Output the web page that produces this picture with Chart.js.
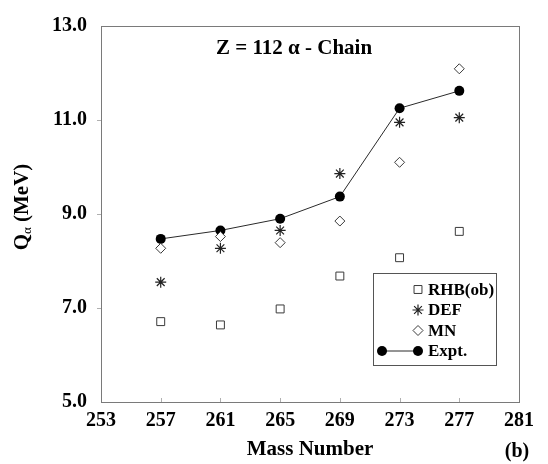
<!DOCTYPE html>
<html>
<head>
<meta charset="utf-8">
<script src="https://cdn.jsdelivr.net/npm/chart.js@4.4.1/dist/chart.umd.min.js"></script>
<style>
  html, body { margin: 0; padding: 0; background: #ffffff; }
  #wrap { width: 548px; height: 464px; position: relative; }
</style>
</head>
<body>
<div id="wrap"><canvas id="chart"></canvas></div>
<script>
// values
const massNumbers = [257, 261, 265, 269, 273, 277];
const rhbValues  = [6.71, 6.64, 6.98, 7.68, 8.07, 8.63];
const defValues  = [7.55, 8.27, 8.65, 9.86, 10.95, 11.05];
const mnValues   = [8.27, 8.52, 8.39, 8.85, 10.10, 12.09];
const exptValues = [8.47, 8.65, 8.90, 9.37, 11.25, 11.62];

const xTicks = [253, 257, 261, 265, 269, 273, 277, 281];
const yTicks = [5.0, 7.0, 9.0, 11.0, 13.0];

const chartTitle = "Z = 112 \u03b1 - Chain";
const xTitle = "Mass Number";
const panelTag = "(b)";
const legendLabels = ["RHB(ob)", "DEF", "MN", "Expt."];

const serif = "'Liberation Serif', 'Times New Roman', serif";
const axisGrey = "#7a7a7a";

const toPoints = (vals) => vals.map((v, i) => ({ x: massNumbers[i], y: v }));

const datasets = [
    {
        label: legendLabels[0],
        data: toPoints(rhbValues),
        showLine: false,
        pointStyle: "rect",
        pointRadius: 5.6,
        pointBorderWidth: 1,
        pointBorderColor: "#3a3a3a",
        pointBackgroundColor: "#ffffff"
    },
    {
        label: legendLabels[1],
        data: toPoints(defValues),
        showLine: false,
        pointStyle: "star",
        pointRadius: 5.5,
        pointBorderWidth: 1.2,
        pointBorderColor: "#222222",
        pointBackgroundColor: "#222222"
    },
    {
        label: legendLabels[2],
        data: toPoints(mnValues),
        showLine: false,
        pointStyle: "rectRot",
        pointRadius: 5,
        pointBorderWidth: 1,
        pointBorderColor: "#3a3a3a",
        pointBackgroundColor: "#ffffff"
    },
    {
        label: legendLabels[3],
        data: toPoints(exptValues),
        showLine: true,
        borderColor: "#2a2a2a",
        borderWidth: 1,
        tension: 0,
        pointStyle: "circle",
        pointRadius: 5,
        pointBorderWidth: 0,
        pointBorderColor: "#000000",
        pointBackgroundColor: "#000000"
    }
];

// frame, inner ticks, titles and the boxed legend
const decorations = {
    id: "decorations",
    afterDraw(chart) {
        const ctx = chart.ctx;
        const area = chart.chartArea;
        const xs = chart.scales.x;
        const ys = chart.scales.y;

        ctx.save();
        ctx.strokeStyle = axisGrey;
        ctx.lineWidth = 1;
        ctx.strokeRect(Math.round(area.left) + 0.5, Math.round(area.top) + 0.5,
            Math.round(area.right - area.left), Math.round(area.bottom - area.top));

        ctx.strokeStyle = "#b0b0b0";
        ctx.beginPath();
        xTicks.slice(1, -1).forEach(v => {
            const px = Math.round(xs.getPixelForValue(v)) + 0.5;
            ctx.moveTo(px, area.bottom);
            ctx.lineTo(px, area.bottom - 4);
        });
        yTicks.slice(1, -1).forEach(v => {
            const py = Math.round(ys.getPixelForValue(v)) + 0.5;
            ctx.moveTo(area.left, py);
            ctx.lineTo(area.left - 4, py);
        });
        ctx.stroke();

        ctx.fillStyle = "#000000";
        ctx.textBaseline = "middle";

        // chart title
        ctx.textAlign = "center";
        ctx.font = "bold 21px " + serif;
        ctx.fillText(chartTitle, 294, 49);

        // x title and panel tag
        ctx.fillText(xTitle, 310, 450);
        ctx.font = "bold 20px " + serif;
        ctx.fillText(panelTag, 517, 452);

        // y title: Q with subscript alpha, then (MeV)
        ctx.save();
        ctx.translate(23, 207);
        ctx.rotate(-Math.PI / 2);
        ctx.font = "bold 21px " + serif;
        const qW = ctx.measureText("Q").width;
        ctx.font = "13px " + serif;
        const aW = ctx.measureText("\u03b1").width;
        ctx.font = "bold 21px " + serif;
        const mW = ctx.measureText(" (MeV)").width;
        let x0 = -(qW + aW + mW) / 2;
        ctx.textAlign = "left";
        ctx.fillText("Q", x0, 0);
        ctx.font = "13px " + serif;
        ctx.fillText("\u03b1", x0 + qW, 5);
        ctx.font = "bold 21px " + serif;
        ctx.fillText(" (MeV)", x0 + qW + aW, 0);
        ctx.restore();

        // legend box
        ctx.strokeStyle = "#555555";
        ctx.lineWidth = 1;
        ctx.strokeRect(373.5, 273.5, 123, 92);
        const rowY = [289.5, 310, 330.5, 351];
        const markX = 418;
        ctx.font = "bold 17px " + serif;
        ctx.textAlign = "left";
        chart.data.datasets.forEach((ds, i) => {
            const y = rowY[i];
            if (ds.showLine) {
                ctx.strokeStyle = ds.borderColor;
                ctx.lineWidth = ds.borderWidth;
                ctx.beginPath();
                ctx.moveTo(382, y);
                ctx.lineTo(markX, y);
                ctx.stroke();
            }
            const opts = {
                pointStyle: ds.pointStyle,
                radius: ds.pointRadius,
                borderWidth: ds.pointBorderWidth,
                rotation: 0
            };
            ctx.strokeStyle = ds.pointBorderColor;
            ctx.fillStyle = ds.pointBackgroundColor;
            ctx.lineWidth = ds.pointBorderWidth;
            if (ds.showLine) Chart.helpers.drawPoint(ctx, opts, 382, y);
            Chart.helpers.drawPoint(ctx, opts, markX, y);
            ctx.fillStyle = "#000000";
            ctx.fillText(ds.label, 428, y + 1);
        });
        ctx.restore();
    }
};

new Chart(document.getElementById("chart"), {
    type: "line",
    data: { datasets: datasets },
    options: {
        responsive: true,
        maintainAspectRatio: false,
        animation: false,
        layout: { padding: { left: 0, right: 29, top: 14, bottom: 0 } },
        plugins: {
            legend: { display: false },
            tooltip: { enabled: false }
        },
        scales: {
            x: {
                type: "linear",
                min: 253,
                max: 281,
                afterBuildTicks: (scale) => { scale.ticks = xTicks.map(v => ({ value: v })); },
                afterFit: (scale) => { scale.height = 62; },
                grid: { display: false, drawTicks: false },
                border: { display: false },
                ticks: {
                    padding: 7,
                    color: "#000000",
                    maxRotation: 0,
                    autoSkip: false,
                    font: { family: serif, size: 20, weight: "bold" },
                    callback: (v) => String(v)
                }
            },
            y: {
                type: "linear",
                min: 5,
                max: 13,
                afterBuildTicks: (scale) => { scale.ticks = yTicks.map(v => ({ value: v })); },
                afterFit: (scale) => { scale.width = 101; },
                grid: { display: false, drawTicks: false },
                border: { display: false },
                ticks: {
                    padding: 14,
                    color: "#000000",
                    autoSkip: false,
                    font: { family: serif, size: 20, weight: "bold" },
                    callback: (v) => Number(v).toFixed(1)
                }
            }
        }
    },
    plugins: [decorations]
});
</script>
</body>
</html>
